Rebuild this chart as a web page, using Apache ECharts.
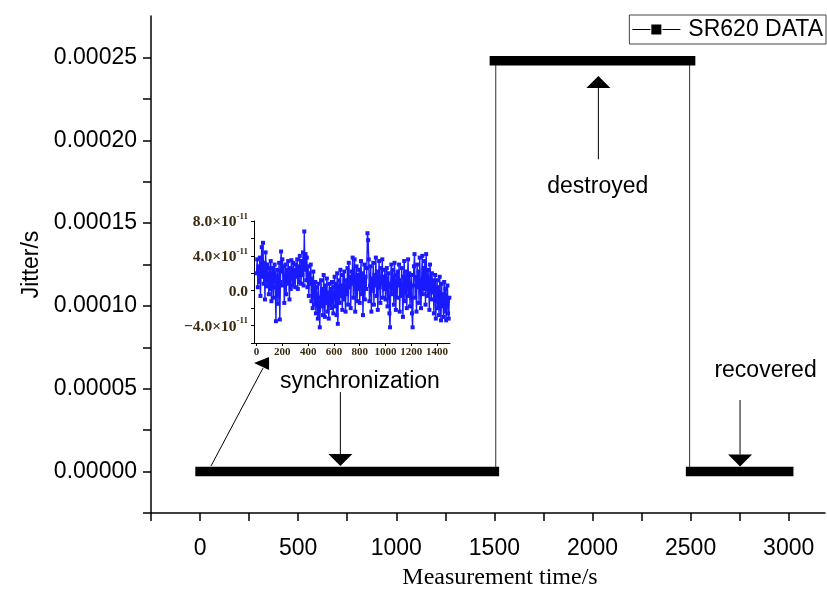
<!DOCTYPE html>
<html><head><meta charset="utf-8">
<script src="https://cdn.jsdelivr.net/npm/echarts@6/dist/echarts.min.js"></script>
<style>html,body{margin:0;padding:0;background:#fff}#c{width:827px;height:590px}</style>
</head><body><div id="c"></div><script>
// ---- main data (time in s, jitter in s) ----
const seriesName = 'SR620 DATA';
const syncTime = [0, 1500];
const syncJitter = [0, 0];
const destroyedTime = [1500, 2500];
const destroyedJitter = [0.000248, 0.000248];
const recoveredTime = [2500, 3000];
const recoveredJitter = [0, 0];
const riseTime = [1507, 1507];
const riseJitter = [0, 0.000248];
const fallTime = [2495, 2495];
const fallJitter = [0.000248, 0];

const xTickValues = [-250, 0, 250, 500, 750, 1000, 1250, 1500, 1750, 2000, 2250, 2500, 2750, 3000];
const xLabelValues = [0, 500, 1000, 1500, 2000, 2500, 3000];
const yTickValues = [-0.000025, 0, 0.000025, 0.00005, 0.000075, 0.0001, 0.000125, 0.00015, 0.000175, 0.0002, 0.000225, 0.00025];
const yLabelValues = [0, 0.00005, 0.0001, 0.00015, 0.0002, 0.00025];

// ---- inset data (jitter in units of 1e-11 s, sampled every 5 s) ----
const insetStep = 5;
const insetJitter = [
  2.0, 3.6, 0.4, 2.8, 1.0, 3.8, -0.6, 2.4, 5.0, 1.6, 5.5, 0.8, 3.2, -1.0, 4.4, 2.0, 0.5, 3.0, 1.4, -0.4,
  2.6, 0.2, 3.4, -1.2, 1.8, 2.6, -0.8, 2.0, 3.0, 0.4, -3.5, 1.6, 2.4, -1.5, 0.8, 3.2, -3.3, 1.0, 4.5, 2.2,
  3.6, 0.6, 2.8, -1.4, 1.2, 3.0, -0.4, 2.4, 0.8, 3.4, 1.4, -1.0, 2.6, 0.2, 3.5, 1.8, 0.6, 3.2, 1.0, 2.4,
  0.4, 3.0, 1.6, 3.6, 0.2, 2.8, 1.0, 4.0, 2.2, 0.8, 3.4, 1.8, 4.4, 0.6, 6.8, 2.4, 4.2, 1.2, 3.8, 0.4,
  2.8, -0.6, 2.0, 0.8, 3.0, -1.2, 1.4, -2.0, 2.2, 0.0, -1.6, 1.0, -2.6, 0.4, -1.0, -3.2, 0.8, -2.2, -4.2, -0.8,
  1.2, -1.8, 0.2, -2.8, 1.8, -0.6, -3.0, 0.6, -1.4, 1.4, -2.4, -0.2, -3.2, 0.8, -1.6, 0.2, -2.0, 1.0, -0.8, -2.6,
  0.4, 1.6, -1.8, 0.8, -2.8, 2.0, -3.8, 0.2, 1.2, -1.4, 2.4, -0.6, 0.6, -2.2, 1.8, -1.0, 2.2, 0.0, -2.4, 1.2,
  -0.4, 2.6, -1.6, 3.2, 0.4, 1.6, -2.0, 2.2, 0.8, 3.8, -0.8, 1.4, 3.6, -2.4, 0.6, 2.8, -1.2, 1.8, 0.2, 2.4,
  -1.4, 1.0, 3.4, -0.4, 2.0, -2.8, 0.8, 3.0, -1.0, 1.6, 0.2, 2.6, 6.6, 5.8, 3.6, -1.2, 0.6, 2.8, -2.4, 1.4,
  0.0, 3.2, -1.6, 1.8, 0.6, 3.8, -0.6, 2.2, -2.2, 1.0, 3.4, 0.4, -1.4, 2.6, 0.8, 3.6, -0.8, 1.6, 0.2, 2.4,
  -1.0, 1.4, 2.6, -1.8, 0.4, 2.0, -2.6, -4.2, 0.8, 3.0, -0.4, 2.4, 1.0, -1.6, 3.2, 0.2, -2.2, 1.8, -0.8, 2.2,
  0.6, 3.0, -2.4, 1.2, -0.6, 2.6, 0.0, -3.0, 1.6, 3.4, -1.2, 0.8, 2.2, -2.0, 1.4, 3.6, -0.6, 2.0, -1.8, 0.4,
  1.8, -2.6, -4.2, 0.6, 2.8, 4.2, -0.8, 1.6, -2.4, 3.0, 0.4, 2.2, -1.4, 3.8, 0.8, -2.0, 1.2, 4.0, -0.4, 2.6,
  0.2, 3.4, -1.6, 4.2, 1.0, -0.6, 2.4, 0.4, -2.2, 3.0, 1.4, -1.0, 2.0, -0.2, 1.2, -2.6, 0.6, 1.8, -3.2, 0.0,
  1.2, -2.0, 0.4, -2.8, 1.6, -1.2, -3.4, 0.8, -1.8, -0.4, -3.0, 1.0, -2.4, 0.2, -3.4, -1.0, 0.6, -2.6, -3.2, -0.8
];
const insetXTicks = [0, 200, 400, 600, 800, 1000, 1200, 1400];
const insetYTicks = [-6, -4, -2, 0, 2, 4, 6, 8];
const insetYLabels = [-4, 0, 4, 8];

const pair = (xs, ys) => xs.map((x, i) => [x, ys[i]]);
const insetData = insetJitter.map((v, i) => [i * insetStep, v]);

const SANS = '"Liberation Sans", Arial, sans-serif';
const SERIF = '"Liberation Serif", "Times New Roman", serif';
const INSET_COL = '#3a2a10';
const FS = 23;

const chart = echarts.init(document.getElementById('c'), null, {renderer: 'canvas'});

const thick = (data) => ({
  name: seriesName, type: 'line', data, showSymbol: false, silent: true,
  xAxisIndex: 0, yAxisIndex: 0, z: 5,
  lineStyle: {color: '#000', width: 9.5, cap: 'square'}, itemStyle: {color: '#000'}
});
const thin = (data) => ({
  name: 'edge', type: 'line', data, showSymbol: false, silent: true,
  xAxisIndex: 0, yAxisIndex: 0, z: 3,
  lineStyle: {color: '#333', width: 1}
});

chart.setOption({
  animation: false,
  backgroundColor: '#fff',
  legend: {
    data: [seriesName], right: 1, top: 15,
    padding: [3, 3, 3, 3],
    borderColor: '#444', borderWidth: 1,
    icon: 'path://M0,4.5L18,4.5L18,5.5L0,5.5Z M19,0L29,0L29,10L19,10Z M30,4.5L48,4.5L48,5.5L30,5.5Z',
    itemWidth: 48, itemHeight: 10,
    itemStyle: {color: '#000'},
    textStyle: {fontFamily: SANS, fontSize: FS, color: '#000', padding: [0, 0, 0, 3]}
  },
  grid: [
    {left: 151, right: 2, top: 16, bottom: 77, outerBoundsMode: 'none', containLabel: false},
    {left: 254, top: 221, width: 196, height: 122, outerBoundsMode: 'none', containLabel: false}
  ],
  xAxis: [{
    type: 'value', gridIndex: 0, min: -250, max: 3185,
    splitLine: {show: false},
    axisLine: {onZero: false, lineStyle: {color: '#000', width: 1.5}},
    axisTick: {customValues: xTickValues, length: 8, lineStyle: {color: '#000', width: 1.5}},
    axisLabel: {customValues: xLabelValues, fontFamily: SANS, fontSize: FS, color: '#000', margin: 24,
      formatter: v => String(v)},
    name: 'Measurement time/s', nameLocation: 'middle', nameGap: 53,
    nameTextStyle: {fontFamily: SERIF, fontSize: 24, color: '#000', padding: [0, 0, 0, 24]}
  }, {
    type: 'value', gridIndex: 1, min: -20, max: 1500,
    splitLine: {show: false},
    axisLine: {onZero: false, lineStyle: {color: '#000', width: 1}},
    axisTick: {customValues: insetXTicks, length: 3, lineStyle: {color: '#000'}},
    axisLabel: {customValues: insetXTicks, hideOverlap: false, fontFamily: SERIF, fontWeight: 'bold', fontSize: 11, color: INSET_COL, margin: 4,
      formatter: v => String(v)}
  }],
  yAxis: [{
    type: 'value', gridIndex: 0, min: -0.000025, max: 0.000275,
    splitLine: {show: false},
    axisLine: {onZero: false, lineStyle: {color: '#000', width: 1.5}},
    axisTick: {customValues: yTickValues, length: 8, lineStyle: {color: '#000', width: 1.5}},
    axisLabel: {customValues: yLabelValues, fontFamily: SANS, fontSize: FS, color: '#000', margin: 14,
      formatter: v => v.toFixed(5)},
    name: 'Jitter/s', nameLocation: 'middle', nameGap: 108, nameRotate: 90,
    nameTextStyle: {fontFamily: SANS, fontSize: FS, color: '#000'}
  }, {
    type: 'value', gridIndex: 1, min: -6, max: 8,
    splitLine: {show: false},
    axisLine: {onZero: false, lineStyle: {color: '#000', width: 1}},
    axisTick: {customValues: insetYTicks, length: 3, lineStyle: {color: '#000'}},
    axisLabel: {customValues: insetYLabels, hideOverlap: false, margin: 6, color: INSET_COL,
      formatter: v => v === 0 ? '{b|0.0}' : '{b|' + (v < 0 ? '\u2212' : '') + Math.abs(v).toFixed(1) + '\u00d710}{s|-11}',
      rich: {
        b: {fontFamily: SERIF, fontWeight: 'bold', fontSize: 15.5, color: INSET_COL, lineHeight: 18, verticalAlign: 'bottom'},
        s: {fontFamily: SERIF, fontWeight: 'bold', fontSize: 9, color: INSET_COL, lineHeight: 18, verticalAlign: 'top', padding: [0, 0, 9, 0]}
      }}
  }],
  series: [
    thin(pair(riseTime, riseJitter)),
    thin(pair(fallTime, fallJitter)),
    thick(pair(syncTime, syncJitter)),
    thick(pair(destroyedTime, destroyedJitter)),
    thick(pair(recoveredTime, recoveredJitter)),
    {
      name: 'inset', type: 'line', data: insetData, xAxisIndex: 1, yAxisIndex: 1,
      symbol: 'rect', symbolSize: 4, showSymbol: true, showAllSymbol: true, silent: true,
      lineStyle: {color: '#1a1aff', width: 1.4}, itemStyle: {color: '#1a1aff'}
    }
  ]
});

// ---- annotations (anchored in data coordinates) ----
const P = (x, y) => chart.convertToPixel({xAxisIndex: 0, yAxisIndex: 0}, [x, y]);
const g = [];
function arrow(x, yFrom, yTo) {
  const a = P(x, yFrom), b = P(x, yTo);
  const dir = b[1] > a[1] ? 1 : -1;
  const base = b[1] - dir * 12;
  g.push({type: 'line', shape: {x1: a[0], y1: a[1], x2: a[0], y2: base}, style: {stroke: '#000', lineWidth: 1}, z: 100});
  g.push({type: 'polygon', shape: {points: [[b[0] - 12, base], [b[0] + 12, base], [b[0], b[1]]]}, style: {fill: '#000'}, z: 100});
}
function label(text, x, y) {
  const p = P(x, y);
  g.push({type: 'text', x: p[0], y: p[1], style: {text, fill: '#000', font: FS + 'px ' + SANS, align: 'center', verticalAlign: 'middle'}, z: 100});
}
arrow(715, 0.000048, 0.0000033);
arrow(2030, 0.0001885, 0.0002388);
arrow(2752, 0.0000432, 0.0000031);
label('synchronization', 815, 0.0000541);
label('destroyed', 2027, 0.0001718);
label('recovered', 2882, 0.0000607);
// inset pointer
const s0 = P(56, 0.0000034), s1 = P(321, 0.0000625);
g.push({type: 'line', shape: {x1: s0[0], y1: s0[1], x2: s1[0], y2: s1[1]}, style: {stroke: '#000', lineWidth: 1}, z: 100});
g.push({type: 'polygon', shape: {points: [[s1[0] - 9, s1[1] - 5], [s1[0] + 6, s1[1] - 11], [s1[0] + 6, s1[1] + 2]]}, style: {fill: '#000'}, z: 100});
chart.setOption({graphic: g});
</script></body></html>
